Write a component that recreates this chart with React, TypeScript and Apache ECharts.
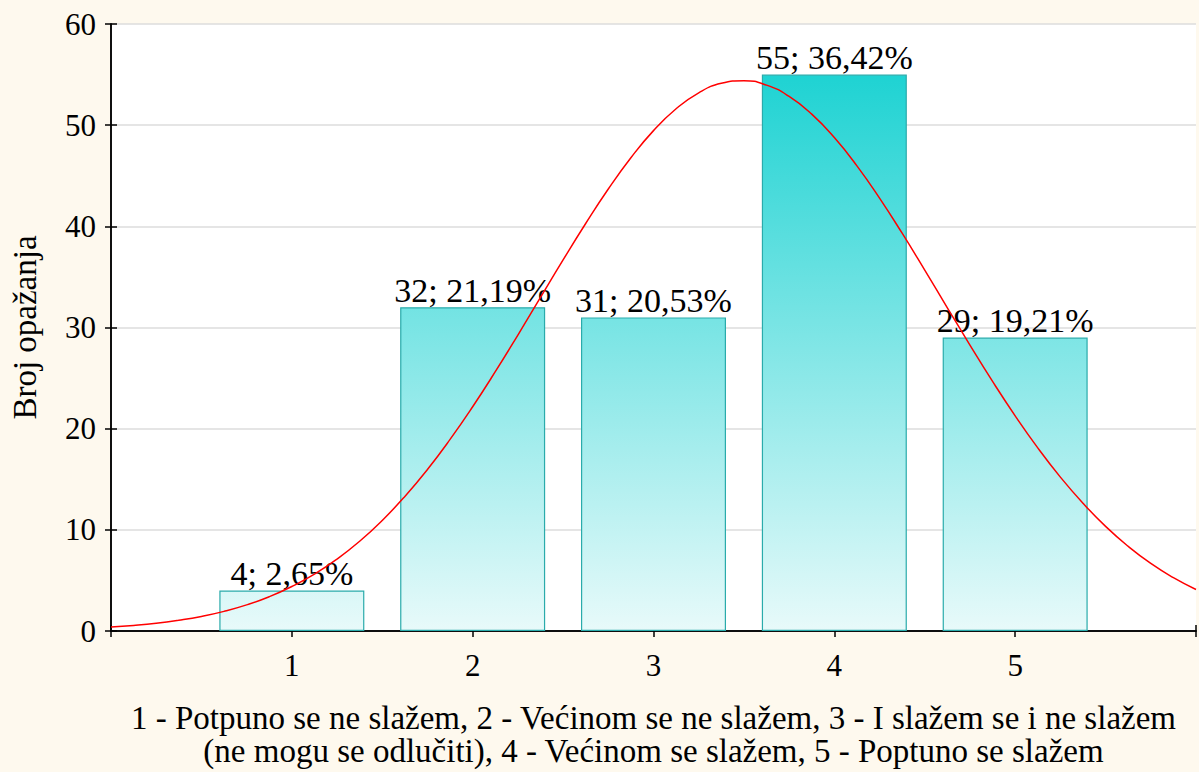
import React, { useEffect, useRef } from "react";
import * as echarts from "echarts";

const categories = [1, 2, 3, 4, 5];
const counts = [4, 32, 31, 55, 29];
const percents = ["2,65", "21,19", "20,53", "36,42", "19,21"];
const curveX = [
  0, 0.125, 0.25, 0.375, 0.5, 0.625, 0.75, 0.875, 1, 1.125, 1.25, 1.375, 1.5, 1.625, 1.75, 1.875,
  2, 2.125, 2.25, 2.375, 2.5, 2.625, 2.75, 2.875, 3, 3.125, 3.25, 3.375, 3.5, 3.625, 3.75, 3.875,
  4, 4.125, 4.25, 4.375, 4.5, 4.625, 4.75, 4.875, 5, 5.125, 5.25, 5.375, 5.5, 5.625, 5.75, 5.875, 6,
];
const curveY = [
  0.4, 0.55, 0.76, 1.06, 1.44, 1.94, 2.58, 3.39, 4.4, 5.62, 7.11, 8.87, 10.93, 13.3, 15.97, 18.94,
  22.17, 25.63, 29.25, 32.97, 36.68, 40.28, 43.69, 46.78, 49.46, 51.62, 53.2, 54.14, 54.4, 53.96, 52.84, 51.09,
  48.78, 45.98, 42.79, 39.32, 35.67, 31.95, 28.26, 24.67, 21.27, 18.1, 15.21, 12.63, 10.34, 8.37, 6.68, 5.27, 4.1,
];
const yTicks = [0, 10, 20, 30, 40, 50, 60];
const yAxisName = "Broj opažanja";
const xAxisName =
  "1 - Potpuno se ne slažem, 2 - Većinom se ne slažem, 3 - I slažem se i ne slažem\n(ne mogu se odlučiti), 4 - Većinom se slažem, 5 - Poptuno se slažem";

const FONT = "'Liberation Serif', 'Times New Roman', serif";

export default function App() {
  const ref = useRef<HTMLDivElement>(null);
  useEffect(() => {
    if (!ref.current) return;
    const chart = echarts.init(ref.current, null, { renderer: "svg" });
    const axisLine = { show: true, lineStyle: { color: "#000", width: 1.5 } };
    const tick = { show: true, inside: true, length: 6, lineStyle: { color: "#000", width: 1.5 } };
    chart.setOption({
      animation: false,
      backgroundColor: "#FEF9EE",
      grid: { left: 110, right: -1, top: 24, bottom: 140, show: true, backgroundColor: "#fff", borderWidth: 0 },
      xAxis: [
        {
          type: "value",
          min: 0,
          max: 6,
          interval: 1,
          position: "bottom",
          axisLine,
          axisTick: tick,
          splitLine: { show: false },
          axisLabel: {
            margin: 19,
            fontSize: 31,
            fontFamily: FONT,
            color: "#000",
            formatter: (v: number) => (categories.indexOf(v) >= 0 ? String(v) : ""),
          },
          name: xAxisName,
          nameLocation: "middle",
          nameGap: 70,
          nameTextStyle: { fontSize: 33, fontFamily: FONT, color: "#000", lineHeight: 33, align: "center" },
        },
        {
          type: "value",
          min: 0,
          max: 6,
          interval: 1,
          position: "top",
          axisLine,
          axisTick: tick,
          splitLine: { show: false },
          axisLabel: { show: false },
        },
      ],
      yAxis: [
        {
          type: "value",
          min: yTicks[0],
          max: yTicks[yTicks.length - 1],
          interval: 10,
          position: "left",
          axisLine,
          axisTick: tick,
          splitLine: { show: true, lineStyle: { color: "#DCDCDC", width: 1.5 } },
          axisLabel: { margin: 15, fontSize: 31, fontFamily: FONT, color: "#000" },
          name: yAxisName,
          nameLocation: "middle",
          nameGap: 70,
          nameTextStyle: { fontSize: 33, fontFamily: FONT, color: "#000" },
        },
        {
          type: "value",
          min: yTicks[0],
          max: yTicks[yTicks.length - 1],
          interval: 10,
          position: "right",
          axisLine,
          axisTick: tick,
          splitLine: { show: false },
          axisLabel: { show: false },
        },
      ],
      series: [
        {
          type: "bar",
          xAxisIndex: 0,
          yAxisIndex: 0,
          barWidth: 145,
          data: categories.map((c, i) => [c, counts[i]]),
          itemStyle: {
            color: new echarts.graphic.LinearGradient(
              0, 24, 0, 632,
              [
                { offset: 0, color: "#0CCFCF" },
                { offset: 1, color: "#E8FAFA" },
              ],
              true
            ),
            borderColor: "#2AABAB",
            borderWidth: 1.2,
          },
          label: {
            show: true,
            position: "top",
            distance: 0,
            fontSize: 34,
            fontFamily: FONT,
            color: "#000",
            formatter: (p: any) => `${counts[p.dataIndex]}; ${percents[p.dataIndex]}%`,
          },
          z: 2,
        },
        {
          type: "line",
          xAxisIndex: 0,
          yAxisIndex: 0,
          smooth: true,
          showSymbol: false,
          symbol: "none",
          data: curveX.map((x, i) => [x, curveY[i]]),
          lineStyle: { color: "#FF0000", width: 1.5 },
          z: 3,
        },
      ],
    });
    return () => chart.dispose();
  }, []);
  return <div ref={ref} style={{ position: "fixed", left: 0, top: 0, width: 1199, height: 772 }} />;
}
